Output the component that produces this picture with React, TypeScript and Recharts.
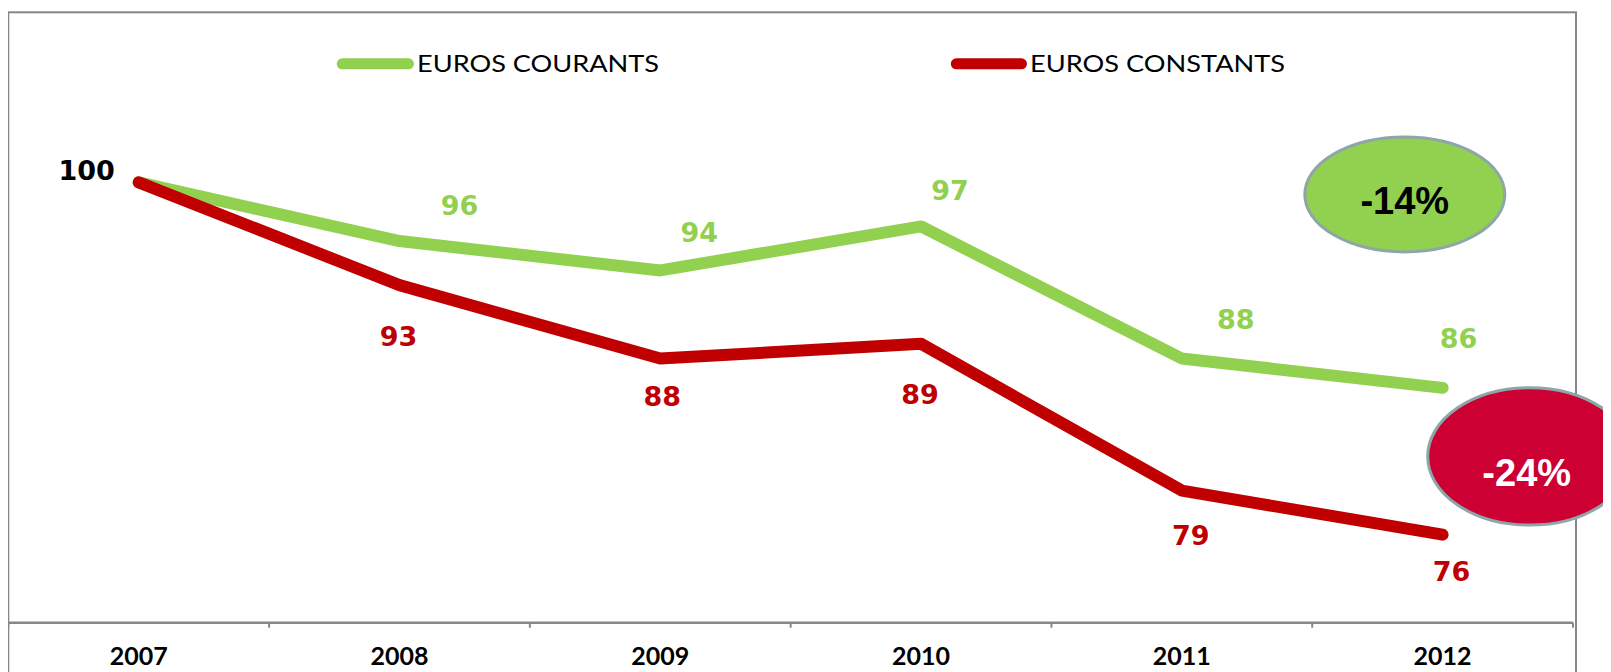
import React from 'react';
import { LineChart, Line, XAxis, YAxis, Legend, ReferenceDot, Customized } from 'recharts';

// ---- data ----
const years = ['2007', '2008', '2009', '2010', '2011', '2012'];
const eurosCourants = [100, 96, 94, 97, 88, 86];
const eurosConstants = [100, 93, 88, 89, 79, 76];
const seriesNames = ['EUROS COURANTS', 'EUROS CONSTANTS'];
const variations = ['-14%', '-24%'];

// ---- styling constants ----
const GREEN = '#92D050';
const RED = '#C00000';
const AXIS_GREY = '#878787';
const W = 1603;
const H = 664;

// label nudges relative to each point (px)
const courantsNudge: [number, number][] = [[-52, -12], [60, -36], [39, -38], [29, -36], [54, -39], [16, -50]];
const constantsNudge: ([number, number] | null)[] = [null, [-1, 51], [2, 38], [-1, 50], [9, 45], [9, 37]];

// legend layout (by series order)
const legendItems = [
  { lineStart: 328.7, lineEnd: 406, textX: 409, textW: 242 },
  { lineStart: 942.8, lineEnd: 1019, textX: 1022, textW: 255 },
];

// annotation ellipses (in data space of the chart)
const bubbles = [
  { x: 5.355, y: 99.18, rx: 100, ry: 57.5, fill: '#92D050', text: '#000000', tdx: 0, tdy: 5.5 },
  { x: 5.834, y: 81.33, rx: 102, ry: 68.7, fill: '#CC0033', text: '#FFFFFF', tdx: -3, tdy: 16 },
];

const data = years.map((year, i) => ({
  x: i + 0.5,
  year,
  courants: eurosCourants[i],
  constants: eurosConstants[i],
}));

const LABEL_FONT = 27;
const AXIS_H = 0.01;

const makeLabel = (nudges: ([number, number] | null)[], color: string, firstColor?: string) => (props: any) => {
  const { x, y, value, index } = props;
  const n = nudges[index];
  if (!n || x == null || y == null) return null;
  const fill = index === 0 && firstColor ? firstColor : color;
  return (
    <text
      key={`lbl-${color}-${index}`}
      x={x + n[0]}
      y={y + n[1] + LABEL_FONT * 0.729 / 2}
      textAnchor="middle"
      fontFamily="'DejaVu Sans', sans-serif"
      fontWeight={700}
      fontSize={LABEL_FONT}
      fill={fill}
    >
      {value}
    </text>
  );
};

const LegendContent = (props: any) => {
  const payload = props.payload || [];
  return (
    <svg
      width={W}
      height={90}
      style={{ position: 'absolute', left: 0, top: 0, overflow: 'visible' }}
    >
      {payload.map((p: any, i: number) => {
        const idx = seriesNames.indexOf(p.value);
        const li = legendItems[idx >= 0 ? idx : i];
        if (!li) return null;
        return (
          <g key={i}>
            <line
              x1={li.lineStart + 5.5}
              x2={li.lineEnd - 5.5}
              y1={55.8}
              y2={55.8}
              stroke={p.color}
              strokeWidth={11}
              strokeLinecap="round"
            />
            <text
              x={li.textX}
              y={64}
              fontFamily="Lato, sans-serif"
              fontSize={24}
              fill="#000"
              textLength={li.textW}
              lengthAdjust="spacingAndGlyphs"
            >
              {p.value}
            </text>
          </g>
        );
      })}
    </svg>
  );
};

const makeBubble = (b: typeof bubbles[number], label: string) => (props: any) => {
  const { cx, cy } = props;
  if (cx == null || cy == null) return <g />;
  return (
    <g>
      <ellipse cx={cx} cy={cy} rx={b.rx} ry={b.ry} fill={b.fill} stroke="#8EA5AA" strokeWidth={3} />
      <text
        x={cx + b.tdx}
        y={cy + b.tdy + 38 * 0.716 / 2}
        textAnchor="middle"
        fontFamily="'Liberation Sans', Arial, sans-serif"
        fontWeight={700}
        fontSize={38}
        fill={b.text}
      >
        {label}
      </text>
    </g>
  );
};

const Frame = () => (
  <rect x={0.3} y={4.3} width={1567.7} height={800} fill="none" stroke={AXIS_GREY} strokeWidth={2} />
);

export default function App() {
  return (
    <div style={{ width: W, height: H, background: '#fff' }}>
      <LineChart
        width={W}
        height={H}
        data={data}
        margin={{ top: 27.6, right: 38, left: 0.3, bottom: 49.3 - 2 * AXIS_H }}
      >
        <Customized component={Frame} />
        <XAxis
          xAxisId="ticks"
          dataKey="x"
          type="number"
          domain={[0, 6]}
          ticks={[0, 1, 2, 3, 4, 5, 6]}
          interval={0}
          allowDataOverflow
          height={AXIS_H}
          tickSize={5}
          tickFormatter={() => ''}
          axisLine={{ stroke: AXIS_GREY, strokeWidth: 2.5 }}
          tickLine={{ stroke: AXIS_GREY, strokeWidth: 2 }}
        />
        <XAxis
          xAxisId="lab"
          dataKey="x"
          type="number"
          domain={[0, 6]}
          ticks={years.map((_, i) => i + 0.5)}
          interval={0}
          allowDataOverflow
          height={AXIS_H}
          axisLine={false}
          tickLine={false}
          tickSize={0}
          tickMargin={24.5}
          tickFormatter={(v: number) => years[Math.floor(v)]}
          tick={{ fontFamily: 'Lato, sans-serif', fontWeight: 700, fontSize: 25, fill: '#000' }}
        />
        <YAxis hide type="number" domain={[70, 110]} allowDataOverflow />
        <Legend
          verticalAlign="top"
          align="left"
          wrapperStyle={{ position: 'absolute', top: 0, left: 0, width: 0, height: 0 }}
          content={LegendContent}
        />
        <Line
          xAxisId="lab"
          type="linear"
          dataKey="courants"
          name={seriesNames[0]}
          stroke={GREEN}
          strokeWidth={12}
          strokeLinecap="round"
          strokeLinejoin="round"
          dot={false}
          activeDot={false}
          isAnimationActive={false}
          label={makeLabel(courantsNudge, GREEN, '#000000')}
        />
        <Line
          xAxisId="lab"
          type="linear"
          dataKey="constants"
          name={seriesNames[1]}
          stroke={RED}
          strokeWidth={12}
          strokeLinecap="round"
          strokeLinejoin="round"
          dot={false}
          activeDot={false}
          isAnimationActive={false}
          label={makeLabel(constantsNudge, RED)}
        />
        {bubbles.map((b, i) => (
          <ReferenceDot
            key={i}
            xAxisId="lab"
            x={b.x}
            y={b.y}
            r={1}
            ifOverflow="visible"
            shape={makeBubble(b, variations[i])}
          />
        ))}
      </LineChart>
    </div>
  );
}
